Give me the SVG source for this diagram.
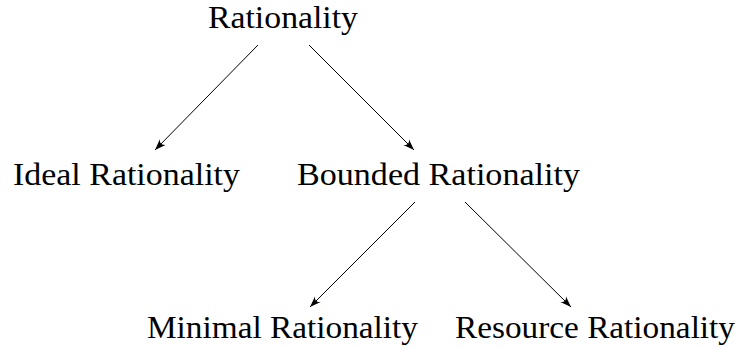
<svg xmlns="http://www.w3.org/2000/svg" width="740" height="349" viewBox="0 0 740 349">
  <style>
    .lbl { font-family: "Liberation Serif", "DejaVu Serif", serif; font-size: 32px; fill: #000; text-anchor: middle; }
    .edge { stroke: #000; stroke-width: 1; fill: none; marker-end: url(#arr); }
  </style>
  <defs>
    <marker id="arr" markerUnits="userSpaceOnUse" markerWidth="12" markerHeight="9" viewBox="0 0 12 9" refX="11.5" refY="4.5" orient="auto">
      <path d="M0.5,0.5 Q3.5,3.5 2.5,4.5 Q3.5,5.5 0.5,8.5 L11.5,4.5 z" fill="#000"/>
    </marker>
  </defs>
  <rect width="740" height="349" fill="#fff"/>
  <g id="connectors">
    <line class="edge" x1="258" y1="45" x2="155" y2="150"/>
    <line class="edge" x1="309" y1="45" x2="414" y2="150"/>
    <line class="edge" x1="415" y1="202" x2="310" y2="307"/>
    <line class="edge" x1="465" y1="202" x2="571" y2="307"/>
  </g>
  <g id="rationality"><text class="lbl" x="283" y="28" textLength="150" lengthAdjust="spacingAndGlyphs">Rationality</text></g>
  <g id="ideal"><text class="lbl" x="126.5" y="185" textLength="227" lengthAdjust="spacingAndGlyphs">Ideal Rationality</text></g>
  <g id="bounded"><text class="lbl" x="438.5" y="185" textLength="283" lengthAdjust="spacingAndGlyphs">Bounded Rationality</text></g>
  <g id="minimal"><text class="lbl" x="282.5" y="338" textLength="271" lengthAdjust="spacingAndGlyphs">Minimal Rationality</text></g>
  <g id="resource"><text class="lbl" x="595" y="338" textLength="280" lengthAdjust="spacingAndGlyphs">Resource Rationality</text></g>
</svg>
